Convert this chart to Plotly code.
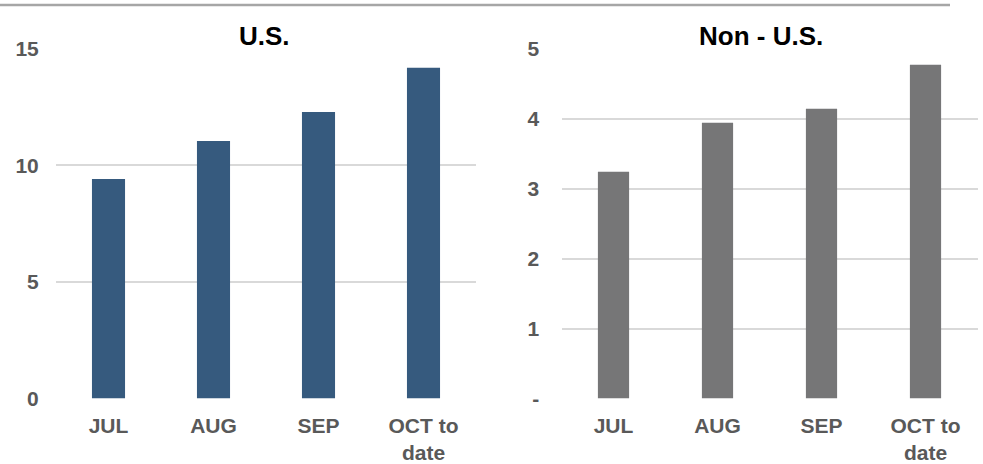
import plotly.graph_objects as go

categories = ["JUL", "AUG", "SEP", "OCT to<br>date"]
us_values = [9.41, 11.04, 12.29, 14.18]
non_us_values = [3.24, 3.94, 4.14, 4.77]
us_ticks = [0, 5, 10, 15]
us_ticktext = ["0", "5", "10", "15"]
non_us_ticks = [0, 1, 2, 3, 4, 5]
non_us_ticktext = ["-", "1", "2", "3", "4", "5"]
titles = ["U.S.", "Non - U.S."]

W, H = 983, 464
FONT = "Liberation Sans, Arial, sans-serif"
TICK_COLOR = "#595959"
GRID = "#D9D9D9"

def px(x):
    return x / W

def py(y):
    return 1 - y / H

fig = go.Figure()
fig.add_trace(go.Bar(x=categories, y=us_values, marker=dict(color="#365A7E", line=dict(width=0)),
                     width=0.315, xaxis="x", yaxis="y", showlegend=False))
fig.add_trace(go.Bar(x=categories, y=non_us_values, marker=dict(color="#767677", line=dict(width=0)),
                     width=0.30, xaxis="x2", yaxis="y2", showlegend=False))

tickfont = dict(family=FONT, size=21, color=TICK_COLOR, weight="bold")
ydom = [py(398.5), py(48.7)]

common_x = dict(tickfont=tickfont, showgrid=False, zeroline=False, showline=False, ticks="outside",
                ticklen=8, tickcolor="rgba(0,0,0,0)", automargin=False, fixedrange=True)
common_y = dict(tickfont=tickfont, showgrid=True, gridcolor=GRID, gridwidth=1.5, zeroline=False,
                showline=False, ticks="outside", tickcolor="rgba(0,0,0,0)", automargin=False,
                fixedrange=True)

fig.update_layout(
    width=W, height=H, autosize=False, showlegend=False,
    margin=dict(l=0, r=0, t=0, b=0, pad=0, autoexpand=False),
    paper_bgcolor="white", plot_bgcolor="white",
    xaxis=dict(domain=[px(56), px(476)], anchor="y", **common_x),
    yaxis=dict(domain=ydom, anchor="x", range=[0, 15], tickvals=us_ticks, ticktext=us_ticktext,
               ticklen=12, **common_y),
    xaxis2=dict(domain=[px(561.5), px(977.5)], anchor="y2", **common_x),
    yaxis2=dict(domain=ydom, anchor="x2", range=[0, 5], tickvals=non_us_ticks, ticktext=non_us_ticktext,
                ticklen=17, **common_y),
)

fig.add_annotation(text="<b>" + titles[0] + "</b>", x=px(264), y=py(36), xref="paper", yref="paper",
                   xanchor="center", yanchor="middle", showarrow=False,
                   font=dict(family=FONT, size=26, color="black"))
fig.add_annotation(text="<b>" + titles[1] + "</b>", x=px(761), y=py(36), xref="paper", yref="paper",
                   xanchor="center", yanchor="middle", showarrow=False,
                   font=dict(family=FONT, size=26, color="black"))

fig.add_shape(type="line", xref="paper", yref="paper", x0=0, x1=px(950), y0=py(5), y1=py(5),
              line=dict(color="#A6A6A6", width=2.5))

fig.write_html("out.html", config={"displayModeBar": False},
               post_script="document.body.style.margin='0';document.body.style.padding='0';")
